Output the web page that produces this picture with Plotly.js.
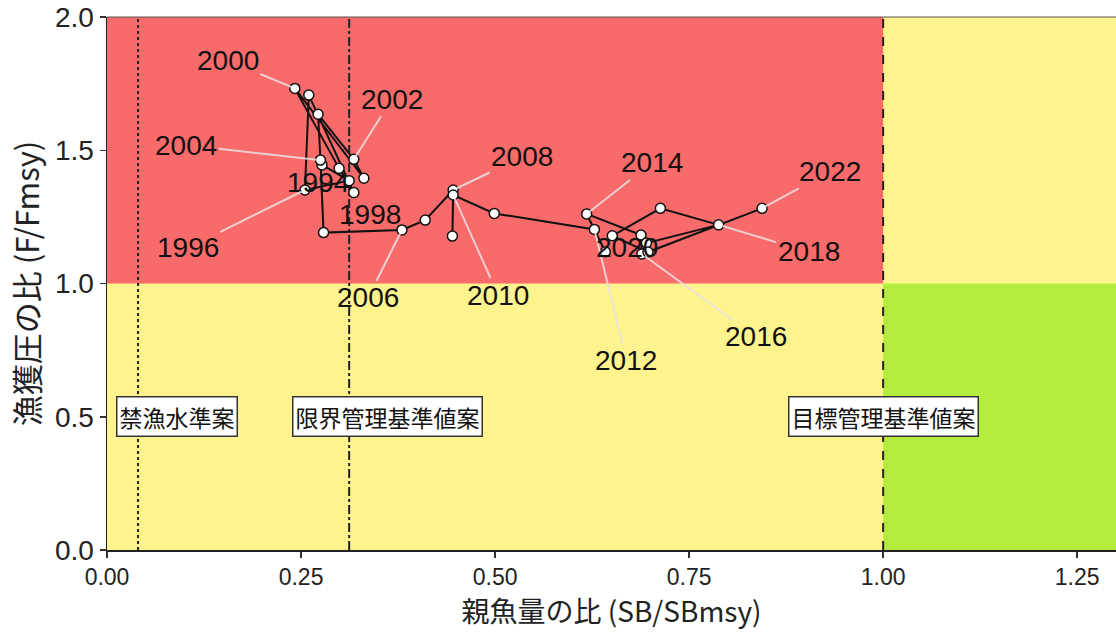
<!DOCTYPE html>
<html><head><meta charset="utf-8">
<script src="https://cdn.plot.ly/plotly-3.0.1.min.js"></script>
<style>html,body{margin:0;padding:0;background:#fff}#c{width:1116px;height:634px}</style>
</head><body><div id="c"></div>
<script>
// Data
const years = [1994,1995,1996,1997,1998,1999,2000,2001,2002,2003,2004,2005,2006,2007,2008,2009,2010,2011,2012,2013,2014,2015,2016,2017,2018,2019,2020,2021,2022];
const sbRatio = [0.277,0.312,0.255,0.260,0.318,0.299,0.242,0.331,0.318,0.272,0.275,0.279,0.380,0.410,0.446,0.445,0.446,0.499,0.628,0.642,0.618,0.688,0.689,0.695,0.788,0.713,0.651,0.697,0.844];
const fRatio  = [1.445,1.386,1.351,1.707,1.341,1.432,1.732,1.395,1.466,1.635,1.463,1.191,1.201,1.238,1.351,1.178,1.332,1.263,1.203,1.119,1.261,1.182,1.111,1.152,1.220,1.282,1.179,1.118,1.282];
const labelYears = [1994,1996,1998,2000,2002,2004,2006,2008,2010,2012,2014,2016,2018,2020,2022];
const refPoints = {ban: 0.04, limit: 0.312, target: 1.0};
const refNames = ["禁漁水準案","限界管理基準値案","目標管理基準値案"];
const xTicks = [0,0.25,0.5,0.75,1.0,1.25];
const yTicks = [0,0.5,1.0,1.5,2.0];

// label offsets (pixels) for repel-like placement
const labelOffsets = {1994:[-4,18,0],1996:[-117,58,1],1998:[16,22,0],2000:[-67,-28,1],2002:[38,-60,1],2004:[-134,-15,1],2006:[-34,68,1],2008:[69,-33,1],2010:[45,100,1],2012:[32,131,1],2014:[65,-51,1],2016:[114,83,1],2018:[90,27,1],2020:[15,12,0],2022:[68,-37,1]};

const FONT = "Liberation Sans, Arial, Noto Sans CJK JP, sans-serif";
const JFONT = "Noto Sans CJK JP, Liberation Sans, sans-serif";
const RED = "#F96A6A", YEL = "#FFF38E", GRN = "#B4EC3E";

const shapes = [
  {type:'rect',xref:'x',yref:'y',x0:0,x1:1.3,y0:0,y1:2,fillcolor:YEL,line:{width:0},layer:'below'},
  {type:'rect',xref:'x',yref:'y',x0:0,x1:refPoints.target,y0:1,y1:2,fillcolor:RED,line:{width:0},layer:'below'},
  {type:'rect',xref:'x',yref:'y',x0:refPoints.target,x1:1.3,y0:0,y1:1,fillcolor:GRN,line:{width:0},layer:'below'},
  {type:'line',xref:'x',yref:'y',x0:refPoints.ban,x1:refPoints.ban,y0:0,y1:2,line:{color:'#222',width:2,dash:'dot'},layer:'below'},
  {type:'line',xref:'x',yref:'y',x0:refPoints.limit,x1:refPoints.limit,y0:0,y1:2,line:{color:'#222',width:2,dash:'dashdot'},layer:'below'},
  {type:'line',xref:'x',yref:'y',x0:refPoints.target,x1:refPoints.target,y0:0,y1:2,line:{color:'#222',width:2,dash:'dash'},layer:'below'},
  {type:'line',xref:'paper',yref:'paper',x0:0,x1:1,y0:1,y1:1,line:{color:'#555',width:1}}
];

const annotations = [];
labelYears.forEach(yr => {
  const i = years.indexOf(yr);
  const o = labelOffsets[yr];
  annotations.push({x:sbRatio[i],y:fRatio[i],xref:'x',yref:'y',text:String(yr),
    showarrow:true,arrowhead:0,arrowwidth:2,
    arrowcolor:o[2]?'rgba(235,225,225,0.85)':'rgba(0,0,0,0)',
    ax:o[0],ay:o[1],standoff:4,
    font:{family:FONT,size:28,color:'#111'}});
});
const refX = [0.09, 0.362, refPoints.target];
refNames.forEach((t,k)=>{
  annotations.push({x:refX[k],y:0.5,xref:'x',yref:'y',text:t,showarrow:false,
    bgcolor:'#fff',bordercolor:'#333',borderwidth:1.5,borderpad:2,
    font:{family:JFONT,size:23,color:'#111'}});
});

const trace = {x:sbRatio,y:fRatio,type:'scatter',mode:'lines+markers',
  line:{color:'#111',width:2},
  marker:{size:10,color:'#fff',line:{color:'#111',width:1.5}},
  hoverinfo:'skip',cliponaxis:false};

const layout = {
  width:1116,height:634,
  margin:{l:107,r:0,t:17,b:84},
  paper_bgcolor:'#fff',plot_bgcolor:YEL,
  showlegend:false,
  xaxis:{range:[0,1.3],tickvals:xTicks,tickformat:'.2f',showgrid:false,zeroline:false,automargin:false,
    showline:true,linecolor:'#222',linewidth:1.5,ticks:'outside',ticklen:6,tickcolor:'#333',tickwidth:1.5,
    tickfont:{family:FONT,size:23,color:'#222'},
    title:{text:'親魚量の比 (SB/SBmsy)',font:{family:JFONT,size:28,color:'#222'},standoff:4}},
  yaxis:{range:[0,2],tickvals:yTicks,tickformat:'.1f',showgrid:false,zeroline:false,automargin:false,
    showline:true,linecolor:'#222',linewidth:1.5,ticks:'outside',ticklen:6,tickcolor:'#333',tickwidth:1.5,
    tickfont:{family:FONT,size:28,color:'#222'},
    title:{text:'漁獲圧の比 (F/Fmsy)',font:{family:JFONT,size:31,color:'#222'},standoff:6}},
  shapes:shapes,annotations:annotations
};
Plotly.newPlot('c',[trace],layout,{staticPlot:true,displayModeBar:false});
</script></body></html>
